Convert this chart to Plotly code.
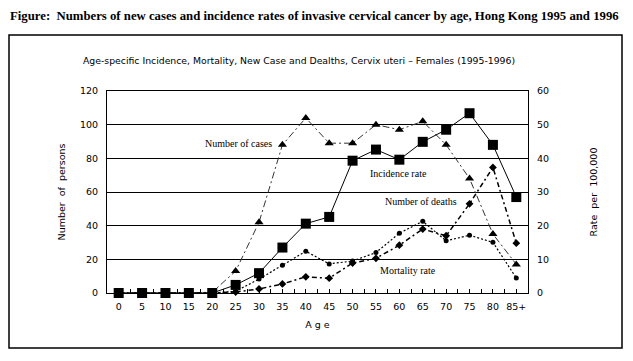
import plotly.graph_objects as go

ages = ["0", "5", "10", "15", "20", "25", "30", "35", "40", "45", "50", "55", "60", "65", "70", "75", "80", "85+"]
cases = [0, 0, 0, 0, 0.5, 13, 42, 88, 104, 89, 89, 100, 97, 102, 88, 68, 35, 17]
deaths = [0, 0, 0, 0, 0, 1, 8.3, 16.5, 24.8, 17.3, 19, 24, 35.5, 42.6, 31, 34.3, 30.1, 8.9]
incidence_rate = [0, 0, 0, 0, 0, 2.4, 5.9, 13.5, 20.6, 22.6, 39.3, 42.6, 39.6, 44.9, 48.5, 53.4, 44.0, 28.5]
mortality_rate = [0, 0, 0, 0, 0, 0.3, 1.2, 2.7, 4.8, 4.4, 8.9, 10.3, 14.2, 19.0, 17.0, 26.5, 37.3, 14.8]

idx = list(range(len(ages)))

fig = go.Figure()
fig.add_trace(go.Scatter(x=idx, y=cases, mode="lines+markers", name="Number of cases",
                         line=dict(color="#333333", width=1, dash="7px,3px,2px,3px"),
                         marker=dict(symbol="triangle-up", size=8, color="black"), cliponaxis=False))
fig.add_trace(go.Scatter(x=idx, y=deaths, mode="lines+markers", name="Number of deaths",
                         line=dict(color="black", width=1.2, dash="2px,2px"),
                         marker=dict(symbol="circle", size=5, color="black"), cliponaxis=False))
fig.add_trace(go.Scatter(x=idx, y=incidence_rate, mode="lines+markers", name="Incidence rate",
                         yaxis="y2", line=dict(color="black", width=1),
                         marker=dict(symbol="square", size=10, color="black"), cliponaxis=False))
fig.add_trace(go.Scatter(x=idx, y=mortality_rate, mode="lines+markers", name="Mortality rate",
                         yaxis="y2", line=dict(color="black", width=1.5, dash="5px,3px,2px,3px"),
                         marker=dict(symbol="diamond", size=6, color="black"), cliponaxis=False))

# page has an 8px body margin; figure sized to fit the window
OFF = 8
W, H = 617, 345
L, T = 99, 83
R, B = W - 520, H - 285
pw, ph = W - L - R, H - T - B

def px(sx):
    return (sx - OFF - L) / pw

def py(sy):
    return (H - B - (sy - OFF)) / ph

ann_font = dict(family="Liberation Serif", size=10, color="black")
annotations = [
    dict(x=px(238), y=py(143), text="Number of cases"),
    dict(x=px(398), y=py(173), text="Incidence rate"),
    dict(x=px(421), y=py(201), text="Number of deaths"),
    dict(x=px(408), y=py(270), text="Mortality rate"),
]
for a in annotations:
    a.update(xref="paper", yref="paper", showarrow=False, font=ann_font, xanchor="center", yanchor="middle")

annotations.append(dict(x=px(8), y=py(16), xref="paper", yref="paper", showarrow=False, xanchor="left", yanchor="middle",
                        text="<b>Figure:  Numbers of new cases and incidence rates of invasive cervical cancer by age, Hong Kong 1995 and 1996</b>",
                        font=dict(family="Liberation Serif", size=12.75, color="black")))
annotations.append(dict(x=px(299), y=py(60), xref="paper", yref="paper", showarrow=False, xanchor="center", yanchor="middle",
                        text="Age-specific Incidence, Mortality, New Case and Dealths, Cervix uteri \u2013 Females (1995-1996)",
                        font=dict(family="DejaVu Sans", size=9.3, color="black")))

tick_font = dict(family="DejaVu Sans", size=9.5, color="black")
title_font = dict(family="DejaVu Sans", size=9.5, color="black")

fig.update_layout(
    width=W, height=H,
    margin=dict(l=L, r=R, t=T, b=B, pad=0),
    paper_bgcolor="white", plot_bgcolor="white",
    showlegend=False,
    annotations=annotations,
    shapes=[dict(type="rect", xref="paper", yref="paper", x0=px(9), x1=px(622), y0=py(35), y1=py(348),
                 line=dict(color="black", width=1.5), layer="below")],
    xaxis=dict(range=[-0.5, 17.5], tickmode="array", tickvals=idx, ticktext=ages,
               ticks="inside", ticklen=4, tickcolor="black", showgrid=False, zeroline=False,
               showline=True, linecolor="black", linewidth=1, mirror=True,
               minor=dict(tickmode="array", tickvals=[i + 0.5 for i in idx[:-1]], ticks="inside", ticklen=4, tickcolor="black"),
               tickfont=tick_font, ticklabelstandoff=5,
               title=dict(text="A g e", font=title_font, standoff=9)),
    yaxis=dict(range=[0, 120], dtick=20, showgrid=True, gridcolor="black", gridwidth=1, zeroline=False,
               showline=True, linecolor="black", linewidth=1, mirror=True, ticks="",
               tickfont=tick_font, ticklabelstandoff=6,
               title=dict(text="Number  of  persons", font=title_font, standoff=12)),
    yaxis2=dict(range=[0, 60], dtick=10, overlaying="y", side="right", showgrid=False, zeroline=False,
                showline=False, ticks="", tickfont=tick_font, ticklabelstandoff=8,
                title=dict(text="Rate  per  100,000", font=title_font, standoff=42)),
)

fig.write_html("out.html")
